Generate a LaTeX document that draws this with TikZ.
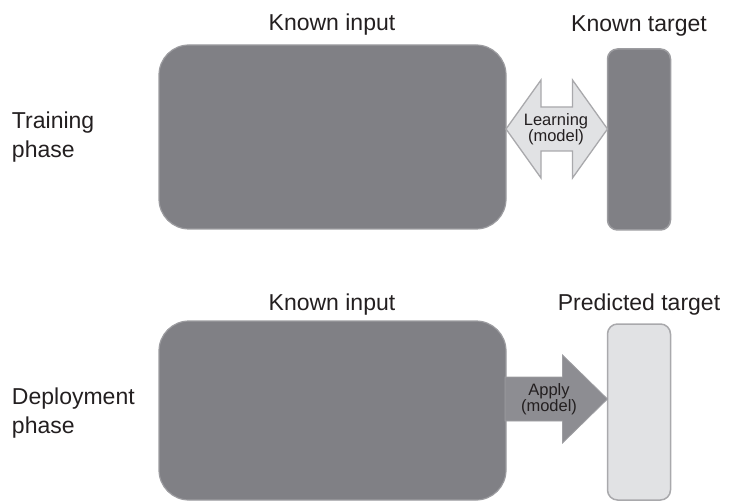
\documentclass[tikz,border=0pt]{standalone}
\usepackage{fontspec}
\setmainfont{Liberation Sans}
\usetikzlibrary{calc}

\definecolor{inkdark}{HTML}{231F20}
\definecolor{boxdark}{HTML}{808085}
\definecolor{boxdarkrim}{HTML}{9C9CA0}
\definecolor{boxlight}{HTML}{E1E2E4}
\definecolor{boxlightrim}{HTML}{A9A9AC}
\definecolor{arrowdark}{HTML}{8D8D92}

\tikzset{
  x=1pt, y=-1pt,
  every node/.style={text=inkdark, inner sep=0pt, outer sep=0pt},
  bigtext/.style={font=\fontsize{23}{29}\selectfont},
  smalltext/.style={font=\fontsize{16.5}{16}\selectfont, align=center},
  inputbox/.style={draw=boxdarkrim, line width=1.2pt, fill=boxdark,
    rounded corners=30pt, minimum width=347pt},
  targetbox/.style={line width=1.5pt, rounded corners=10pt, minimum width=63pt},
  knowntarget/.style={targetbox, draw=boxdarkrim, fill=boxdark},
  predtarget/.style={targetbox, draw=boxlightrim, fill=boxlight},
  learnarrow/.style={draw=boxlightrim, line width=1.3pt, fill=boxlight, line join=miter},
  applyarrow/.style={draw=arrowdark!85!white, line width=0.8pt, fill=arrowdark, line join=miter},
}

\begin{document}
\begin{tikzpicture}
\useasboundingbox (0,0) rectangle (730,502);

% ---- training phase ----
\node[inputbox, minimum height=184pt] (in1) at (332.5,137) {};
\node[knowntarget, minimum height=181pt] (tg1) at (639,139.5) {};

\node[bigtext, anchor=base] (h1) at (332,31) {Known input};
\node[bigtext, anchor=base] (h2) at (639,32) {Known target};
\node[bigtext, anchor=west, align=left] (ph1) at (12,137) {Training\\phase};

% two-headed learning arrow between input and target
\coordinate (la) at (in1.east |- 0,129);
\coordinate (lb) at (tg1.west |- 0,129);
\draw[learnarrow] (la) -- ++(35,-49) -- ++(0,27) -- ($(lb)+(-35,-22)$)
  -- ++(0,-27) -- (lb) -- ++(-35,49) -- ++(0,-27) -- ($(la)+(35,22)$)
  -- ++(0,27) -- cycle;
\node[smalltext] (learn) at (556,129) {Learning\\(model)};

% ---- deployment phase ----
\node[inputbox, minimum height=179pt] (in2) at (332.5,410.5) {};
\node[predtarget, minimum height=176pt] (tg2) at (639,412) {};

\node[bigtext, anchor=base] (h3) at (332,310) {Known input};
\node[bigtext, anchor=base] (h4) at (639,310) {Predicted target};
\node[bigtext, anchor=west, align=left] (ph2) at (12,413) {Deployment\\phase};

% single-headed apply arrow from input to prediction
\coordinate (aa) at ($(in2.east |- 0,399)+(-1,0)$);
\coordinate (ab) at (tg2.west |- 0,399);
\draw[applyarrow] (aa) ++(0,-22) -- ($(ab)+(-45,-22)$) -- ++(0,-22) -- (ab)
  -- ++(-45,44) -- ++(0,-22) -- ($(aa)+(0,22)$) -- cycle;
\node[smalltext] (apply) at (549,399) {Apply\\(model)};
\end{tikzpicture}
\end{document}
